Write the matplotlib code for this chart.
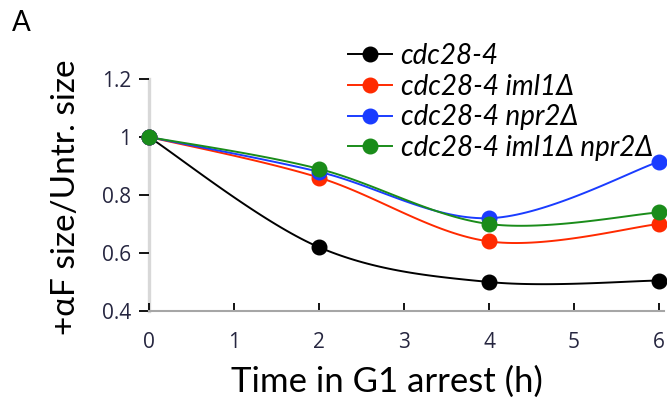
import numpy as np
import matplotlib
matplotlib.use("Agg")
import matplotlib.pyplot as plt
from matplotlib.lines import Line2D

time_h = [0, 2, 4, 6]
series_names = ["cdc28-4", "cdc28-4 iml1Δ", "cdc28-4 npr2Δ", "cdc28-4 iml1Δ npr2Δ"]
cdc28 = [1.0, 0.62, 0.50, 0.505]
cdc28_iml1 = [1.0, 0.86, 0.64, 0.70]
cdc28_npr2 = [1.0, 0.88, 0.72, 0.915]
cdc28_iml1_npr2 = [1.0, 0.89, 0.70, 0.74]
series_values = [cdc28, cdc28_iml1, cdc28_npr2, cdc28_iml1_npr2]
colors = ["#000000", "#ff2a00", "#1a3cff", "#1a8c1a"]
x_ticks = [0, 1, 2, 3, 4, 5, 6]
y_ticks = [0.4, 0.6, 0.8, 1.0, 1.2]
y_ticklabels = ["0.4", "0.6", "0.8", "1", "1.2"]


def smooth(x, y, n=40):
    x = np.asarray(x, float); y = np.asarray(y, float)
    P = np.column_stack([x, y])
    Pe = np.vstack([P[0], P, P[-1]])
    out = []
    t = np.linspace(0, 1, n)[:, None]
    for i in range(len(P) - 1):
        p0, p3 = Pe[i + 1], Pe[i + 2]
        c1 = p0 + (Pe[i + 2] - Pe[i]) / 6.0
        c2 = p3 - (Pe[i + 3] - Pe[i + 1]) / 6.0
        seg = ((1 - t) ** 3) * p0 + 3 * ((1 - t) ** 2) * t * c1 + 3 * (1 - t) * t ** 2 * c2 + t ** 3 * p3
        out.append(seg if i == 0 else seg[1:])
    s = np.vstack(out)
    return s[:, 0], s[:, 1]


fig = plt.figure(figsize=(6.67, 4.08), dpi=100)
W, H = 667, 408
x0, x1 = 149, 664
ytop, ybot = 79, 311
ax = fig.add_axes([x0 / W, 1 - ybot / H, (x1 - x0) / W, (ybot - ytop) / H])
ax.set_xlim(0, (x1 - x0) / 85.0)
ax.set_ylim(0.4, 1.2)

handles = []
for name, vals, c in zip(series_names, series_values, colors):
    sx, sy = smooth(time_h, vals)
    ax.plot(sx, sy, color=c, lw=1.4, clip_on=False, zorder=2)
    ax.plot(time_h, vals, 'o', color=c, ms=10.5, clip_on=False, zorder=3)
    handles.append(Line2D([], [], color=c, lw=1.4, marker='o', ms=10.5))

for s in ["top", "right"]:
    ax.spines[s].set_visible(False)
ax.spines["left"].set_color("#d8d8d8")
ax.spines["left"].set_linewidth(2.4)
ax.spines["bottom"].set_color("#a6a6a6")
ax.spines["bottom"].set_linewidth(1.5)
ax.spines["left"].set_zorder(1)

tick_color = "#262640"
ax.set_yticks(y_ticks)
ax.set_yticklabels(y_ticklabels)
ax.set_xticks(x_ticks)
ax.set_xticklabels([str(v) for v in x_ticks])
ax.tick_params(axis="y", direction="out", length=7, width=1.3, color="black", pad=6,
               labelsize=15, labelcolor=tick_color)
ax.tick_params(axis="x", direction="in", length=6, width=1.3, color="black", pad=15,
               labelsize=15, labelcolor=tick_color)
for lab in ax.get_xticklabels() + ax.get_yticklabels():
    lab.set_fontfamily("Open Sans")

ax.set_xlabel("Time in G1 arrest (h)", fontfamily="Lato", fontsize=25)
ax.xaxis.set_label_coords((387 - x0) / (x1 - x0), -(392 - ybot) / (ybot - ytop), transform=ax.transAxes)
ax.xaxis.label.set_va("baseline")
ax.set_ylabel("+αF size/Untr. size", fontfamily="Lato", fontsize=24)
ax.yaxis.set_label_coords(-(x0 - 66) / (x1 - x0), (ybot - 197) / (ybot - ytop), transform=ax.transAxes)
ax.yaxis.label.set_va("center")

leg = ax.legend(handles, series_names, loc="upper left", bbox_to_anchor=(0.386, 1.156),
                frameon=False, prop={"family": "Lato", "style": "italic", "size": 20},
                handlelength=1.6, handletextpad=0.3, labelspacing=0.17, borderaxespad=0, borderpad=0)

fig.text(12 / W, 1 - 31 / H, "A", fontfamily="Lato", fontsize=20)

fig.savefig("out.png", dpi=100)
